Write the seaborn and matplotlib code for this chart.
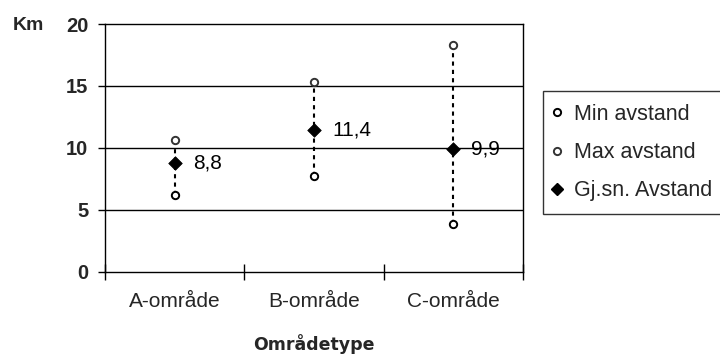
import matplotlib
matplotlib.use("Agg")
import matplotlib.pyplot as plt
import seaborn as sns
import pandas as pd
from matplotlib.lines import Line2D

# Distance (km) per area type
categories = ["A-område", "B-område", "C-område"]
min_avstand = [6.2, 7.7, 3.8]
max_avstand = [10.6, 15.3, 18.3]
snitt_avstand = [8.8, 11.4, 9.9]
snitt_labels = ["8,8", "11,4", "9,9"]
y_ticks = [0, 5, 10, 15, 20]

sns.set_theme(style="white")
plt.rcParams["font.family"] = ["Liberation Sans", "DejaVu Sans"]

df = pd.DataFrame({
    "Områdetype": categories,
    "Min avstand": min_avstand,
    "Max avstand": max_avstand,
    "Gj.sn. Avstand": snitt_avstand,
})

fig = plt.figure(figsize=(7.2, 3.56), dpi=100)
ax = fig.add_axes([105 / 720, 1 - 271.5 / 356, 418 / 720, 247.5 / 356])

# horizontal gridlines
for yv in y_ticks[1:-1]:
    ax.axhline(yv, color="black", lw=1, zorder=1)

# high-low lines between min and max
ax.vlines(df["Områdetype"], df["Min avstand"], df["Max avstand"],
          colors="black", linestyles=(0, (2, 2)), lw=1.5, zorder=2)

sns.scatterplot(data=df, x="Områdetype", y="Min avstand", ax=ax, marker="o",
                s=28, color="white", edgecolor="black", linewidth=1.4, zorder=3)
sns.scatterplot(data=df, x="Områdetype", y="Max avstand", ax=ax, marker="o",
                s=28, color="white", edgecolor="#333333", linewidth=1.4, zorder=3)
sns.scatterplot(data=df, x="Områdetype", y="Gj.sn. Avstand", ax=ax, marker="D",
                s=48, color="black", edgecolor="black", linewidth=0.5, zorder=4)

for i, (v, lab) in enumerate(zip(snitt_avstand, snitt_labels)):
    ax.annotate(lab, (i, v), xytext=(13, 0), textcoords="offset points",
                ha="left", va="center", fontsize=15, color="black", zorder=5)

ax.set_xlim(-0.5, len(categories) - 0.5)
ax.set_ylim(0, 20)
ax.set_yticks(y_ticks)
ax.set_yticklabels([str(t) for t in y_ticks], fontsize=14.5, fontweight="bold")
ax.tick_params(axis="y", direction="out", length=5, width=1, color="black", pad=7, left=True)

# category boundaries carry the tick marks, labels sit in the middle
ax.set_xticks([i - 0.5 for i in range(len(categories) + 1)])
ax.set_xticklabels([""] * (len(categories) + 1))
ax.set_xticks(range(len(categories)), minor=True)
ax.set_xticklabels(categories, minor=True, fontsize=15)
ax.tick_params(axis="x", which="major", direction="inout", length=12, width=1,
               color="black", bottom=True)
ax.tick_params(axis="x", which="minor", length=0, pad=15)

ax.set_xlabel("Områdetype", fontsize=12.5, fontweight="bold",
              family=["DejaVu Sans"], labelpad=16)
ax.set_ylabel("")

for sp in ax.spines.values():
    sp.set_color("black")
    sp.set_linewidth(1)

fig.text(28 / 720, 1 - 25 / 356, "Km", fontsize=14, fontweight="bold",
         ha="center", va="center")

handles = [
    Line2D([], [], marker="o", ls="none", markersize=5.2, markerfacecolor="white",
           markeredgecolor="black", markeredgewidth=1.4),
    Line2D([], [], marker="o", ls="none", markersize=5.2, markerfacecolor="white",
           markeredgecolor="#333333", markeredgewidth=1.4),
    Line2D([], [], marker="D", ls="none", markersize=6, markerfacecolor="black",
           markeredgecolor="black"),
]
leg = fig.legend(handles, ["Min avstand", "Max avstand", "Gj.sn. Avstand"],
                 loc="upper left", bbox_to_anchor=(543 / 720, 1 - 91 / 356),
                 borderaxespad=0, fontsize=15.5, frameon=True, fancybox=False,
                 handlelength=0.1, handletextpad=0.72, labelspacing=0.8,
                 borderpad=0.6)
leg.get_frame().set_edgecolor("black")
leg.get_frame().set_linewidth(1)

fig.savefig("out.png", dpi=100)
